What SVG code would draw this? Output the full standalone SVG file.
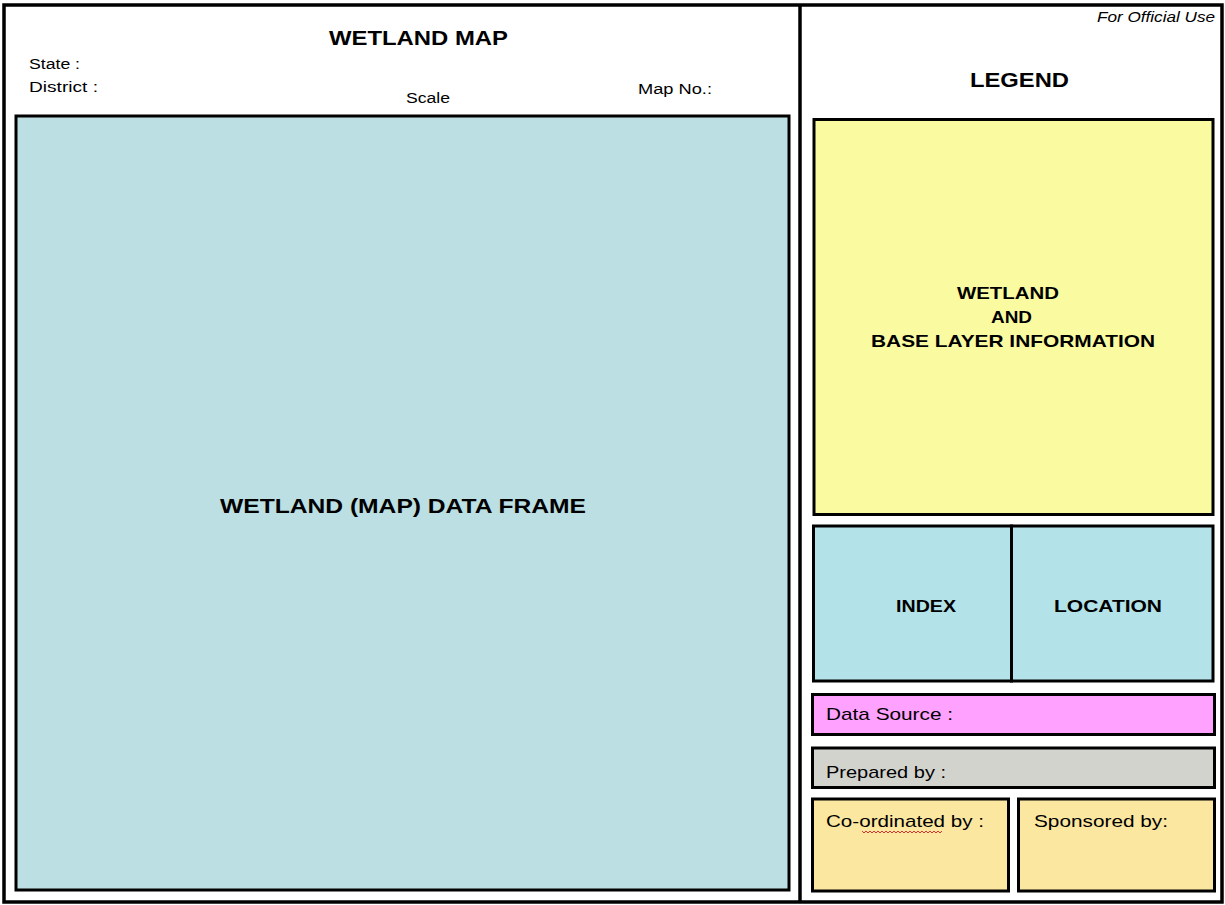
<svg xmlns="http://www.w3.org/2000/svg" width="1225" height="905" viewBox="0 0 1225 905">
<style>
.box{stroke:#000;stroke-width:3;}
.t{font-family:"Liberation Sans",Arial,sans-serif;fill:#000;}
.b{font-weight:bold;}
.s{font-size:14px;}
.m{font-size:17px;}
.h{font-size:20px;}
</style>
<rect width="1225" height="905" fill="#fff"/>
<g id="frame">
<rect x="4" y="5" width="1218" height="897" fill="none" stroke="#000" stroke-width="3.5"/>
<line x1="800" y1="5" x2="800" y2="902" stroke="#000" stroke-width="3.5"/>
</g>
<g id="header">
<text class="t b h" x="329" y="45" textLength="179" lengthAdjust="spacingAndGlyphs">WETLAND MAP</text>
<text class="t s" x="29" y="69" textLength="51" lengthAdjust="spacingAndGlyphs">State :</text>
<text class="t s" x="29" y="92" textLength="69" lengthAdjust="spacingAndGlyphs">District :</text>
<text class="t s" x="406" y="103" textLength="44" lengthAdjust="spacingAndGlyphs">Scale</text>
<text class="t s" x="638" y="94" textLength="74" lengthAdjust="spacingAndGlyphs">Map No.:</text>
</g>
<g id="official">
<text class="t s" x="1097" y="22" font-style="italic" textLength="118" lengthAdjust="spacingAndGlyphs">For Official Use</text>
</g>
<g id="legend-title">
<text class="t b h" x="970" y="87" textLength="99" lengthAdjust="spacingAndGlyphs">LEGEND</text>
</g>
<g id="data-frame">
<rect class="box" x="16" y="116" width="773" height="774" fill="#BBDFE2"/>
<text class="t b h" x="220" y="513" textLength="366" lengthAdjust="spacingAndGlyphs">WETLAND (MAP) DATA FRAME</text>
</g>
<g id="legend-box">
<rect class="box" x="814" y="119.5" width="399" height="395" fill="#FAFBA0"/>
<text class="t b m" x="957" y="299" textLength="102" lengthAdjust="spacingAndGlyphs">WETLAND</text>
<text class="t b m" x="991" y="323" textLength="41" lengthAdjust="spacingAndGlyphs">AND</text>
<text class="t b m" x="871" y="347" textLength="284" lengthAdjust="spacingAndGlyphs">BASE LAYER INFORMATION</text>
</g>
<g id="index">
<rect class="box" x="813.5" y="526" width="198" height="155" fill="#B3E3E8"/>
<text class="t b m" x="896" y="612" textLength="60" lengthAdjust="spacingAndGlyphs">INDEX</text>
</g>
<g id="location">
<rect class="box" x="1011.5" y="526" width="201.5" height="155" fill="#B3E3E8"/>
<text class="t b m" x="1054" y="612" textLength="108" lengthAdjust="spacingAndGlyphs">LOCATION</text>
</g>
<g id="data-source">
<rect class="box" x="812.5" y="694.5" width="402" height="40" fill="#FFA2FF"/>
<text class="t m" x="826" y="720" textLength="127" lengthAdjust="spacingAndGlyphs">Data Source :</text>
</g>
<g id="prepared">
<rect class="box" x="812.5" y="748" width="402" height="39.5" fill="#D3D3CE"/>
<text class="t m" x="826" y="778" textLength="120" lengthAdjust="spacingAndGlyphs">Prepared by :</text>
</g>
<g id="coordinated">
<rect class="box" x="812.5" y="799" width="196" height="92" fill="#FCE7A0"/>
<text class="t m" x="826" y="827" textLength="158" lengthAdjust="spacingAndGlyphs">Co-ordinated by :</text>
<path d="M862 831 l2 2 l2 -2 l2 2 l2 -2 l2 2 l2 -2 l2 2 l2 -2 l2 2 l2 -2 l2 2 l2 -2 l2 2 l2 -2 l2 2 l2 -2 l2 2 l2 -2 l2 2 l2 -2 l2 2 l2 -2 l2 2 l2 -2 l2 2 l2 -2 l2 2 l2 -2 l2 2 l2 -2 l2 2 l2 -2 l2 2 l2 -2 l2 2 l2 -2 l2 2 l2 -2 l2 2 l2 -2" fill="none" stroke="#E03030" stroke-width="1"/>
</g>
<g id="sponsored">
<rect class="box" x="1018.5" y="799" width="196" height="92" fill="#FCE7A0"/>
<text class="t m" x="1034" y="827" textLength="134" lengthAdjust="spacingAndGlyphs">Sponsored by:</text>
</g>
</svg>
